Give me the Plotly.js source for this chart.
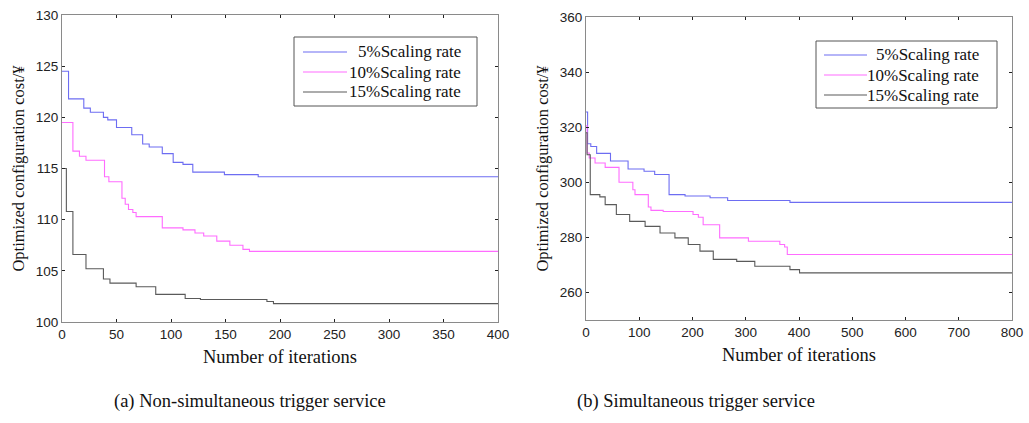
<!DOCTYPE html>
<html>
<head>
<meta charset="utf-8">
<script src="https://cdn.plot.ly/plotly-3.0.1.min.js"></script>
<style>html,body{margin:0;padding:0;background:#fff}#chart{width:1029px;height:423px}</style>
</head>
<body>
<div id="chart"></div>
<script>
// ---- Data ----
const seriesNames = ["5%Scaling rate", "10%Scaling rate", "15%Scaling rate"];

// (a) Non-simultaneous trigger service
const a5x  = [0, 6, 20, 26, 38, 42, 50, 64, 74, 80, 92, 102, 111, 120, 149, 180, 400];
const a5y  = [124.5, 121.8, 120.9, 120.5, 120.0, 119.75, 119.0, 118.3, 117.4, 117.1, 116.45, 115.6, 115.4, 114.65, 114.4, 114.2, 114.2];
const a10x = [0, 10, 16, 22, 39, 43, 55, 58, 61, 65, 68, 92, 111, 122, 130, 142, 154, 166, 172, 400];
const a10y = [119.5, 116.7, 116.2, 115.8, 114.2, 113.7, 112.1, 111.5, 111.0, 110.7, 110.3, 109.2, 109.0, 108.7, 108.4, 107.9, 107.5, 107.1, 106.9, 106.9];
const a15x = [0, 4, 10, 22, 38, 44, 68, 86, 113, 127, 188, 194, 400];
const a15y = [115.0, 110.8, 106.6, 105.2, 104.2, 103.8, 103.45, 102.7, 102.3, 102.2, 102.0, 101.8, 101.8];

// (b) Simultaneous trigger service
const b5x  = [0, 3, 9, 20, 46, 79, 109, 129, 156, 186, 233, 266, 383, 800];
const b5y  = [325.5, 314.0, 313.0, 310.5, 307.7, 304.8, 304.0, 302.8, 295.5, 295.0, 294.4, 293.4, 292.7, 292.7];
const b10x = [0, 2, 6, 17, 36, 62, 88, 92, 117, 122, 145, 201, 211, 220, 251, 305, 364, 373, 378, 800];
const b10y = [320.5, 310.6, 308.8, 307.0, 305.4, 300.0, 297.3, 295.5, 291.0, 289.8, 289.4, 288.3, 287.3, 284.6, 279.8, 278.6, 277.4, 276.5, 273.8, 273.8];
const b15x = [0, 2, 8, 26, 36, 57, 82, 111, 139, 167, 192, 214, 239, 283, 317, 383, 401, 800];
const b15y = [318.0, 310.0, 295.5, 294.7, 291.9, 288.3, 285.8, 284.0, 281.6, 279.8, 277.4, 275.0, 272.0, 271.3, 269.5, 268.3, 267.1, 267.1];

const aXTicks = [0, 50, 100, 150, 200, 250, 300, 350, 400];
const aYTicks = [100, 105, 110, 115, 120, 125, 130];
const bXTicks = [0, 100, 200, 300, 400, 500, 600, 700, 800];
const bYTicks = [260, 280, 300, 320, 340, 360];

const xTitle = "Number of iterations";
const yTitle = "Optimized configuration cost/\u00a5";
const captions = ["(a) Non-simultaneous trigger service", "(b) Simultaneous trigger service"];

// ---- Styles ----
const colors = ["#6d6df2", "#ff6cff", "#5a5a5a"];
const serif = "Liberation Serif, Times New Roman, serif";
const sans = "Liberation Sans, Arial, sans-serif";
const W = 1029, H = 423;

function mk(x, y, i, xa, ya) {
  return {x: x, y: y, type: "scatter", mode: "lines", line: {shape: "hv", color: colors[i], width: 1.1},
          name: seriesNames[i], xaxis: xa, yaxis: ya, showlegend: false, hoverinfo: "skip"};
}

const traces = [
  mk(a5x, a5y, 0, "x", "y"),
  mk(a10x, a10y, 1, "x", "y"),
  mk(a15x, a15y, 2, "x", "y"),
  mk(b5x, b5y, 0, "x2", "y2"),
  mk(b10x, b10y, 1, "x2", "y2"),
  mk(b15x, b15y, 2, "x2", "y2")
];

function axCommon(extra) {
  return Object.assign({
    showgrid: false, zeroline: false, showline: true, linecolor: "#8a8a8a", linewidth: 1,
    mirror: "ticks", ticks: "inside", ticklen: 3, tickcolor: "#222", tickwidth: 1,
    tickfont: {family: sans, size: 13.5, color: "#222"}, fixedrange: true
  }, extra);
}
const xTitleFont = {family: serif, size: 18.5, color: "#111"};
const yTitleFont = {family: serif, size: 16.5, color: "#111"};

// Legend boxes (MATLAB style: sample line left, label right-aligned), in pixels
const legendBoxes = [
  {x0: 294, x1: 477, y0: 37, y1: 106, rows: [52, 72, 92], lx0: 303, lx1: 347, tx: 463},
  {x0: 816, x1: 997, y0: 41, y1: 108, rows: [55, 75, 95], lx0: 824, lx1: 867, tx: 981}
];
const shapes = [];
const annotations = [];
legendBoxes.forEach(function (b) {
  shapes.push({type: "rect", xref: "paper", yref: "paper", x0: b.x0 / W, x1: b.x1 / W,
               y0: (H - b.y1) / H, y1: (H - b.y0) / H, line: {color: "#555", width: 1}, fillcolor: "#fff"});
  seriesNames.forEach(function (n, i) {
    const yy = (H - b.rows[i]) / H;
    shapes.push({type: "line", xref: "paper", yref: "paper", x0: b.lx0 / W, x1: b.lx1 / W, y0: yy, y1: yy,
                 line: {color: colors[i], width: 1.1}});
    annotations.push({text: n, xref: "paper", yref: "paper", x: b.tx / W, y: yy, xanchor: "right", yanchor: "middle",
                      showarrow: false, font: {family: serif, size: 17, color: "#111"}});
  });
});
annotations.push(
  {text: captions[0], xref: "paper", yref: "paper", x: 250 / W, y: (H - 401) / H, xanchor: "center", yanchor: "middle",
   showarrow: false, font: {family: serif, size: 18.5, color: "#111"}},
  {text: captions[1], xref: "paper", yref: "paper", x: 696 / W, y: (H - 401) / H, xanchor: "center", yanchor: "middle",
   showarrow: false, font: {family: serif, size: 18.5, color: "#111"}}
);

const layout = {
  width: W, height: H, margin: {l: 0, r: 0, t: 0, b: 0},
  paper_bgcolor: "#fff", plot_bgcolor: "#fff", showlegend: false,
  xaxis: axCommon({domain: [62 / W, 498 / W], range: [0, 400], tickvals: aXTicks, anchor: "y",
    title: {text: xTitle, font: xTitleFont, standoff: 8}}),
  yaxis: axCommon({domain: [(H - 322) / H, (H - 15) / H], range: [100, 130], tickvals: aYTicks, anchor: "x",
    title: {text: yTitle, font: yTitleFont, standoff: 6}}),
  xaxis2: axCommon({domain: [586 / W, 1012 / W], range: [0, 800], tickvals: bXTicks, anchor: "y2",
    title: {text: xTitle, font: xTitleFont, standoff: 8}}),
  yaxis2: axCommon({domain: [(H - 320) / H, (H - 17) / H], range: [250, 360], tickvals: bYTicks, anchor: "x2",
    title: {text: yTitle, font: yTitleFont, standoff: 6}}),
  shapes: shapes,
  annotations: annotations
};

Plotly.newPlot("chart", traces, layout, {staticPlot: true, displayModeBar: false});
</script>
</body>
</html>
